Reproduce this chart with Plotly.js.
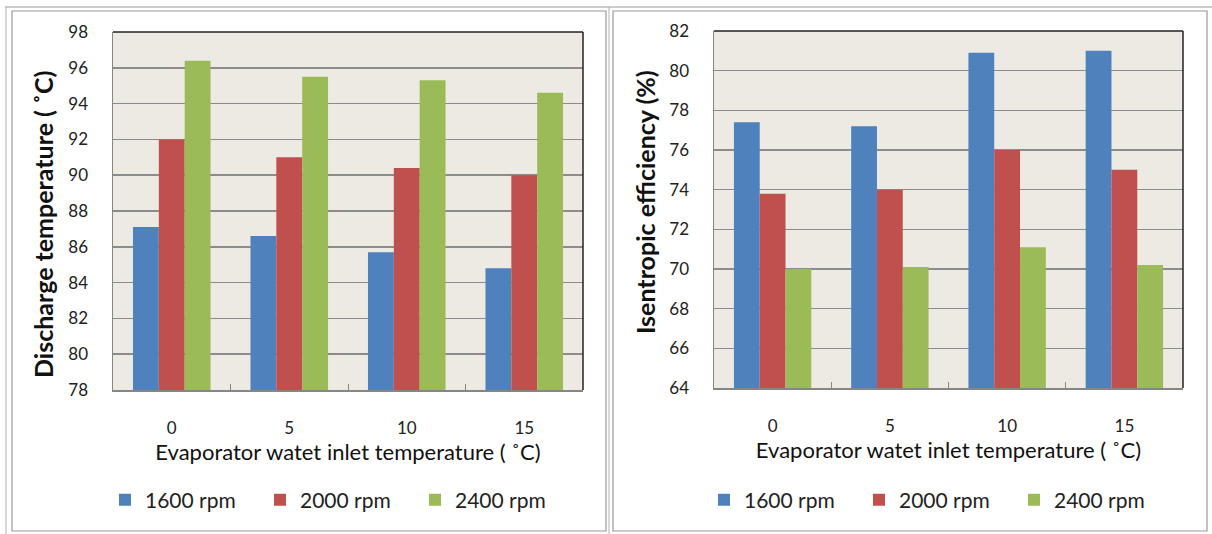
<!DOCTYPE html>
<html>
<head>
<meta charset="utf-8">
<script src="https://cdn.plot.ly/plotly-3.0.1.min.js"></script>
<style>html,body{margin:0;padding:0;background:#fff;overflow:hidden;}#chart{width:1212px;height:534px;}</style>
</head>
<body>
<div id="chart"></div>
<script>
// ---- data ----
const categories = ['0', '5', '10', '15'];
const seriesNames = ['1600 rpm', '2000 rpm', '2400 rpm'];
const discharge1600 = [87.1, 86.6, 85.7, 84.8];
const discharge2000 = [92.0, 91.0, 90.4, 90.0];
const discharge2400 = [96.4, 95.5, 95.3, 94.6];
const efficiency1600 = [77.4, 77.2, 80.9, 81.0];
const efficiency2000 = [73.8, 74.0, 76.0, 75.0];
const efficiency2400 = [70.0, 70.1, 71.1, 70.2];
const leftYTicks = [78, 80, 82, 84, 86, 88, 90, 92, 94, 96, 98];
const rightYTicks = [64, 66, 68, 70, 72, 74, 76, 78, 80, 82];
const xTitle = 'Evaporator watet inlet temperature ( ˚C)';
const leftYTitle = 'Discharge temperature ( ˚C)';
const rightYTitle = 'Isentropic efficiency (%)';

// ---- style ----
const colors = ['#4F81BD', '#C0504D', '#9BBB59'];
const W = 1212, H = 534;
const px = v => v / W;
const py = v => 1 - v / H;
const FONT = 'Lato, Open Sans, sans-serif';
const axisGray = '#868686';

function bar(y, i, xa, ya, leg) {
  return {
    type: 'bar', x: categories, y: y, name: seriesNames[i],
    marker: {color: colors[i]}, xaxis: xa, yaxis: ya, legend: leg,
    hoverinfo: 'y'
  };
}

const traces = [
  bar(discharge1600, 0, 'x', 'y', 'legend'),
  bar(discharge2000, 1, 'x', 'y', 'legend'),
  bar(discharge2400, 2, 'x', 'y', 'legend'),
  bar(efficiency1600, 0, 'x2', 'y2', 'legend2'),
  bar(efficiency2000, 1, 'x2', 'y2', 'legend2'),
  bar(efficiency2400, 2, 'x2', 'y2', 'legend2')
];

function xAxis(domain, anchor) {
  return {
    domain: domain, anchor: anchor, type: 'category',
    showline: true, linecolor: axisGray, linewidth: 1.5,
    ticks: 'inside', tickson: 'boundaries', ticklen: 6, tickcolor: axisGray, tickwidth: 1,
    tickfont: {family: FONT, size: 17, color: '#222'},
    ticklabelstandoff: 22, showgrid: false, zeroline: false, fixedrange: true,
    title: {text: xTitle, font: {family: FONT, size: 22, color: '#111'}, standoff: 1}
  };
}
function yAxis(domain, anchor, range, tickvals) {
  return {
    domain: domain, anchor: anchor, range: range, tickvals: tickvals,
    showline: true, linecolor: axisGray, linewidth: 1.5,
    showgrid: true, gridcolor: '#8c8c8c', gridwidth: 1.5, zeroline: false,
    ticks: '', tickfont: {family: FONT, size: 17, color: '#222'},
    ticklabelstandoff: 20, fixedrange: true
  };
}
function yTitle(text, xc, yc) {
  return {
    text: text, xref: 'paper', yref: 'paper', x: px(xc), y: py(yc),
    xanchor: 'center', yanchor: 'middle', textangle: -90, showarrow: false,
    font: {family: FONT, size: 25, color: '#111', weight: 'bold'}
  };
}

function panel(x0, y0, x1, y1) {
  return {type: 'rect', xref: 'paper', yref: 'paper', x0: px(x0), x1: px(x1), y0: py(y1), y1: py(y0),
    line: {color: '#9a9a9a', width: 1.2}, layer: 'below'};
}
function border(xr, yr) {
  return [
    {type: 'line', xref: xr + ' domain', yref: yr + ' domain', x0: 0, x1: 1, y0: 1, y1: 1, line: {color: '#222', width: 1.5}},
    {type: 'line', xref: xr + ' domain', yref: yr + ' domain', x0: 1, x1: 1, y0: 0, y1: 1, line: {color: '#222', width: 1.5}}
  ];
}

const legendBase = {
  orientation: 'h', xanchor: 'left', yanchor: 'middle',
  font: {family: FONT, size: 21, color: '#222'},
  entrywidth: 110, entrywidthmode: 'pixels', itemwidth: 30,
  bgcolor: 'rgba(0,0,0,0)', traceorder: 'normal', itemclick: false, itemdoubleclick: false
};

const layout = {
  width: W, height: H,
  margin: {l: 0, r: 0, t: 0, b: 0},
  paper_bgcolor: '#ffffff', plot_bgcolor: '#ECEAE3',
  barmode: 'group', bargap: 0.34, bargroupgap: 0,
  showlegend: true,
  legend: Object.assign({}, legendBase, {x: px(105), y: py(500)}),
  legend2: Object.assign({}, legendBase, {x: px(704), y: py(500)}),
  xaxis: xAxis([px(113), px(583)], 'y'),
  yaxis: yAxis([py(390), py(32)], 'x', [78, 98], leftYTicks),
  xaxis2: xAxis([px(714), px(1183)], 'y2'),
  yaxis2: yAxis([py(388), py(31)], 'x2', [64, 82], rightYTicks),
  annotations: [yTitle(leftYTitle, 43, 225), yTitle(rightYTitle, 645, 202)],
  shapes: [
    {type: 'line', xref: 'paper', yref: 'paper', x0: px(5), x1: px(1212), y0: py(7), y1: py(7), line: {color: '#9a9a9a', width: 1}},
    {type: 'line', xref: 'paper', yref: 'paper', x0: px(6), x1: px(6), y0: py(534), y1: py(7), line: {color: '#b0b0b0', width: 1}},
    {type: 'line', xref: 'paper', yref: 'paper', x0: px(609), x1: px(609), y0: py(534), y1: py(7), line: {color: '#b0b0b0', width: 1}},
    panel(12, 11, 606, 531),
    panel(613, 11, 1207, 531)
  ].concat(border('x', 'y'), border('x2', 'y2'))
};

Plotly.newPlot('chart', traces, layout, {displayModeBar: false, staticPlot: true});
</script>
</body>
</html>
